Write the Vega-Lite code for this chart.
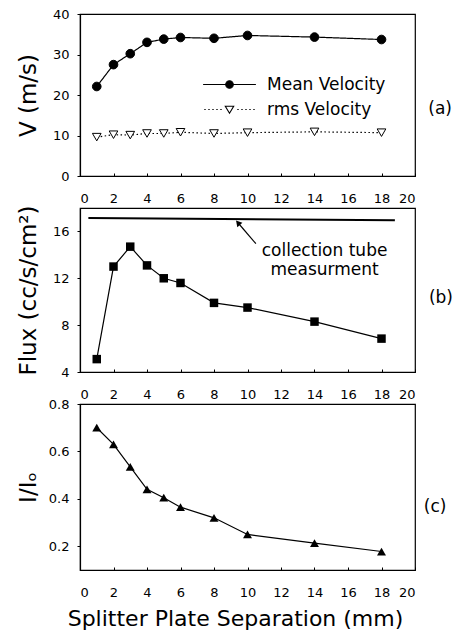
{
  "$schema": "https://vega.github.io/schema/vega-lite/v6.json",
  "background": "white",
  "padding": {"left": 16, "top": 7, "right": 0, "bottom": 0},
  "bounds": "flush",
  "spacing": 32,
  "datasets": {
    "vel": [
      {"sep": 1, "series": "Mean Velocity", "v": 22.1},
      {"sep": 2, "series": "Mean Velocity", "v": 27.5},
      {"sep": 3, "series": "Mean Velocity", "v": 30.2},
      {"sep": 4, "series": "Mean Velocity", "v": 33.0},
      {"sep": 5, "series": "Mean Velocity", "v": 33.8},
      {"sep": 6, "series": "Mean Velocity", "v": 34.2},
      {"sep": 8, "series": "Mean Velocity", "v": 34.0},
      {"sep": 10, "series": "Mean Velocity", "v": 34.7},
      {"sep": 14, "series": "Mean Velocity", "v": 34.3},
      {"sep": 18, "series": "Mean Velocity", "v": 33.7},
      {"sep": 1, "series": "rms Velocity", "v": 9.6},
      {"sep": 2, "series": "rms Velocity", "v": 10.2},
      {"sep": 3, "series": "rms Velocity", "v": 10.1},
      {"sep": 4, "series": "rms Velocity", "v": 10.5},
      {"sep": 5, "series": "rms Velocity", "v": 10.5},
      {"sep": 6, "series": "rms Velocity", "v": 10.8},
      {"sep": 8, "series": "rms Velocity", "v": 10.5},
      {"sep": 10, "series": "rms Velocity", "v": 10.7},
      {"sep": 14, "series": "rms Velocity", "v": 10.9},
      {"sep": 18, "series": "rms Velocity", "v": 10.7}
    ],
    "flux": [
      {"sep": 1, "flux": 5.1},
      {"sep": 2, "flux": 13.0},
      {"sep": 3, "flux": 14.7},
      {"sep": 4, "flux": 13.1},
      {"sep": 5, "flux": 12.0},
      {"sep": 6, "flux": 11.6},
      {"sep": 8, "flux": 9.9},
      {"sep": 10, "flux": 9.5},
      {"sep": 14, "flux": 8.3},
      {"sep": 18, "flux": 6.85}
    ],
    "tube": [
      {"sep": 0.5, "flux": 17.15},
      {"sep": 18.8, "flux": 16.95}
    ],
    "arrow": [
      {"sep": 10.5, "flux": 14.95},
      {"sep": 9.43, "flux": 16.74}
    ],
    "arrowhead": [
      {"sep": 9.43, "flux": 16.74}
    ],
    "note": [
      {"sep": 14.6, "flux": 14.3, "label": "collection tube"},
      {"sep": 14.6, "flux": 12.68, "label": "measurment"}
    ],
    "ratio": [
      {"sep": 1, "r": 0.70},
      {"sep": 2, "r": 0.63},
      {"sep": 3, "r": 0.535},
      {"sep": 4, "r": 0.44},
      {"sep": 5, "r": 0.405},
      {"sep": 6, "r": 0.365},
      {"sep": 8, "r": 0.32},
      {"sep": 10, "r": 0.25},
      {"sep": 14, "r": 0.213},
      {"sep": 18, "r": 0.178}
    ]
  },
  "vconcat": [
    {
      "width": 335,
      "height": 162,
      "layer": [
        {
          "data": {"name": "vel"},
          "mark": {"type": "line", "color": "black", "strokeWidth": 1.2},
          "encoding": {
            "x": {"field": "sep", "type": "quantitative", "scale": {"domain": [0, 20]}, "axis": {"tickCount": 10, "title": null, "labelOverlap": true, "labelSeparation": -30}},
            "y": {"field": "v", "type": "quantitative", "scale": {"domain": [0, 40]}, "axis": {"values": [0, 10, 20, 30, 40], "title": "V (m/s)"}},
            "strokeDash": {"field": "series", "type": "nominal", "scale": {"domain": ["Mean Velocity", "rms Velocity"], "range": [[1, 0], [1.5, 2.5]]}, "legend": null}
          }
        },
        {
          "data": {"name": "vel"},
          "mark": {"type": "point", "stroke": "black", "strokeWidth": 1, "opacity": 1, "size": 75},
          "encoding": {
            "x": {"field": "sep", "type": "quantitative"},
            "y": {"field": "v", "type": "quantitative"},
            "shape": {"field": "series", "type": "nominal", "scale": {"domain": ["Mean Velocity", "rms Velocity"], "range": ["circle", "triangle-down"]}, "legend": null},
            "fill": {"field": "series", "type": "nominal", "scale": {"domain": ["Mean Velocity", "rms Velocity"], "range": ["black", "white"]}, "legend": null}
          }
        },
        {
          "data": {"name": "vel"},
          "mark": {"type": "point", "opacity": 0, "size": 64, "strokeWidth": 1.1},
          "encoding": {
            "x": {"field": "sep", "type": "quantitative"},
            "y": {"field": "v", "type": "quantitative"},
            "fill": {
              "field": "series", "type": "nominal",
              "scale": {"domain": ["Mean Velocity", "rms Velocity"], "range": ["black", "white"]},
              "legend": {"title": null}
            },
            "stroke": {
              "field": "series", "type": "nominal",
              "scale": {"domain": ["Mean Velocity", "rms Velocity"], "range": ["black", "black"]},
              "legend": {"title": null}
            },
            "shape": {
              "field": "series", "type": "nominal",
              "scale": {"domain": ["Mean Velocity", "rms Velocity"], "range": [
                "M-6.6,0L6.6,0M-0.95,0A0.95,0.95,0,1,0,0.95,0A0.95,0.95,0,1,0,-0.95,0Z",
                "M-6.3,0h0.35M-5.3,0h0.35M-4.3,0h0.35M-3.3,0h0.35M-2.3,0h0.35M1.95,0h0.35M2.95,0h0.35M3.95,0h0.35M4.95,0h0.35M5.95,0h0.35M-1.05,-0.8L1.05,-0.8L0,0.95Z"
              ]},
              "legend": {
                "title": null,
                "orient": "none",
                "legendX": 141,
                "legendY": 62,
                "padding": 0,
                "labelFont": "DejaVu Sans",
                "labelFontSize": 17,
                "labelColor": "black",
                "labelOffset": 29,
                "labelLimit": 300,
                "symbolSize": 64,
                "symbolOpacity": 1,
                "symbolStrokeWidth": 1.1,
                "rowPadding": 7
              }
            }
          }
        },
        {
          "data": {"values": [{"sep": 21.5, "v": 16.5, "label": "(a)"}]},
          "mark": {"type": "text", "fontSize": 17, "align": "center", "baseline": "middle", "color": "black"},
          "encoding": {
            "x": {"field": "sep", "type": "quantitative"},
            "y": {"field": "v", "type": "quantitative"},
            "text": {"field": "label"}
          }
        }
      ],
      "resolve": {
        "scale": {"shape": "independent", "fill": "independent", "stroke": "independent"},
        "legend": {"shape": "independent", "fill": "independent", "stroke": "independent"}
      }
    },
    {
      "width": 335,
      "height": 164,
      "layer": [
        {
          "data": {"name": "flux"},
          "mark": {"type": "line", "color": "black", "strokeWidth": 1.2},
          "encoding": {
            "x": {"field": "sep", "type": "quantitative", "scale": {"domain": [0, 20]}, "axis": {"tickCount": 10, "title": null, "labelOverlap": true, "labelSeparation": -30}},
            "y": {"field": "flux", "type": "quantitative", "scale": {"domain": [4, 18]}, "axis": {"values": [4, 8, 12, 16], "title": "Flux (cc/s/cm²)"}}
          }
        },
        {
          "data": {"name": "flux"},
          "mark": {"type": "point", "shape": "square", "filled": true, "color": "black", "opacity": 1, "size": 72},
          "encoding": {
            "x": {"field": "sep", "type": "quantitative"},
            "y": {"field": "flux", "type": "quantitative"}
          }
        },
        {
          "data": {"name": "tube"},
          "mark": {"type": "line", "color": "black", "strokeWidth": 2},
          "encoding": {
            "x": {"field": "sep", "type": "quantitative"},
            "y": {"field": "flux", "type": "quantitative"}
          }
        },
        {
          "data": {"name": "arrow"},
          "mark": {"type": "line", "color": "black", "strokeWidth": 1.2},
          "encoding": {
            "x": {"field": "sep", "type": "quantitative"},
            "y": {"field": "flux", "type": "quantitative"}
          }
        },
        {
          "data": {"name": "arrowhead"},
          "mark": {"type": "point", "shape": "triangle-up", "angle": 319, "filled": true, "color": "black", "opacity": 1, "size": 45},
          "encoding": {
            "x": {"field": "sep", "type": "quantitative"},
            "y": {"field": "flux", "type": "quantitative"}
          }
        },
        {
          "data": {"name": "note"},
          "mark": {"type": "text", "fontSize": 17, "align": "center", "baseline": "middle", "color": "black"},
          "encoding": {
            "x": {"field": "sep", "type": "quantitative"},
            "y": {"field": "flux", "type": "quantitative"},
            "text": {"field": "label"}
          }
        },
        {
          "data": {"values": [{"sep": 21.55, "flux": 10.3, "label": "(b)"}]},
          "mark": {"type": "text", "fontSize": 17, "align": "center", "baseline": "middle", "color": "black"},
          "encoding": {
            "x": {"field": "sep", "type": "quantitative"},
            "y": {"field": "flux", "type": "quantitative"},
            "text": {"field": "label"}
          }
        }
      ]
    },
    {
      "width": 335,
      "height": 166,
      "layer": [
        {
          "data": {"name": "ratio"},
          "mark": {"type": "line", "color": "black", "strokeWidth": 1.2},
          "encoding": {
            "x": {"field": "sep", "type": "quantitative", "scale": {"domain": [0, 20]}, "axis": {"tickCount": 10, "title": "Splitter Plate Separation (mm)", "titleFontSize": 22, "titlePadding": 9, "titleX": 155, "labelOverlap": true, "labelSeparation": -30}},
            "y": {"field": "r", "type": "quantitative", "scale": {"domain": [0.1, 0.8]}, "axis": {"values": [0.2, 0.4, 0.6, 0.8], "format": ".1f", "title": "I/Iₒ"}}
          }
        },
        {
          "data": {"name": "ratio"},
          "mark": {"type": "point", "shape": "triangle-up", "filled": true, "color": "black", "opacity": 1, "size": 80},
          "encoding": {
            "x": {"field": "sep", "type": "quantitative"},
            "y": {"field": "r", "type": "quantitative"}
          }
        },
        {
          "data": {"values": [{"sep": 21.2, "r": 0.365, "label": "(c)"}]},
          "mark": {"type": "text", "fontSize": 17, "align": "center", "baseline": "middle", "color": "black"},
          "encoding": {
            "x": {"field": "sep", "type": "quantitative"},
            "y": {"field": "r", "type": "quantitative"},
            "text": {"field": "label"}
          }
        }
      ]
    }
  ],
  "config": {
    "font": "DejaVu Sans",
    "view": {"stroke": "black", "strokeWidth": 1.2},
    "axis": {
      "grid": false,
      "domainColor": "black",
      "domainWidth": 1.2,
      "tickColor": "black",
      "labelColor": "black",
      "titleColor": "black",
      "labelFont": "DejaVu Sans",
      "titleFont": "DejaVu Sans",
      "labelFontSize": 13,
      "titleFontWeight": "normal"
    },
    "axisX": {"tickSize": -3, "labelPadding": 19},
    "axisY": {"tickSize": 3, "labelPadding": 8, "minExtent": 36, "maxExtent": 36, "titleFontSize": 23, "titlePadding": 4}
  }
}
